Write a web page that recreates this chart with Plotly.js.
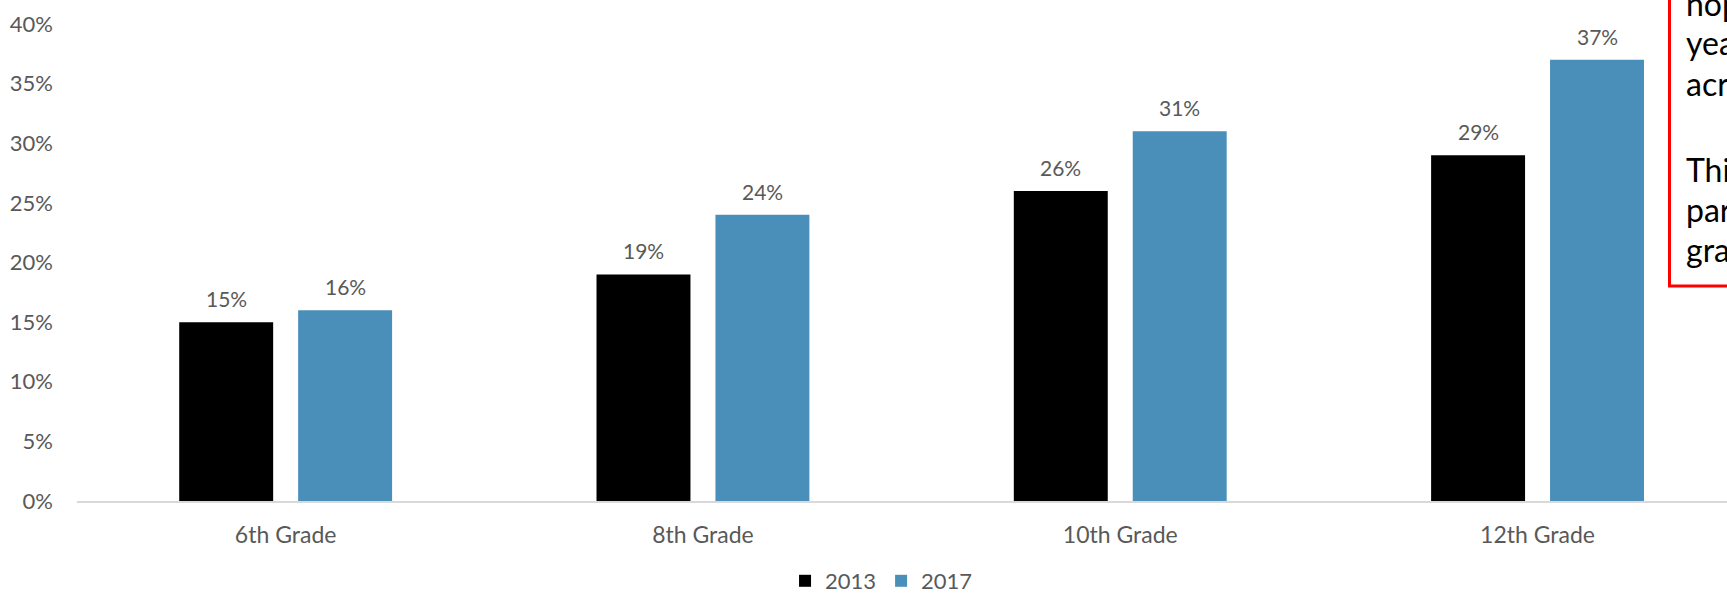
<!DOCTYPE html>
<html>
<head>
<meta charset="utf-8">
<script src="https://cdn.plot.ly/plotly-3.0.1.min.js"></script>
<style>
html,body{margin:0;padding:0;background:#fff;overflow:hidden;}
#chart{width:1727px;height:594px;}
</style>
</head>
<body>
<div id="chart"></div>
<script>
// ---- data ----
const categories = ['6th Grade', '8th Grade', '10th Grade', '12th Grade'];
const series2013 = [0.15, 0.19, 0.26, 0.29];
const series2017 = [0.16, 0.24, 0.31, 0.37];
const seriesNames = ['2013', '2017'];
const yTickVals = [0, 0.05, 0.10, 0.15, 0.20, 0.25, 0.30, 0.35, 0.40];
const yTickText = ['0%', '5%', '10%', '15%', '20%', '25%', '30%', '35%', '40%'];
const noteLines = ['nop', 'yea', 'acr', 'Thi', 'par', 'gra'];

// ---- style ----
const FONT = 'Lato, "Open Sans", sans-serif';
const GREY = '#595959';
const colors = ['#000000', '#4A8FBA'];

const fmt = v => Math.round(v * 100) + '%';

const traces = [series2013, series2017].map((vals, i) => ({
  type: 'bar',
  name: seriesNames[i],
  x: categories,
  y: vals,
  marker: {color: colors[i]},
  hoverinfo: 'none'
}));

const W = 1727, H = 594;
const margin = {l: 77, r: 0, t: 23.5, b: 93.3, autoexpand: false};
const plotW = W - margin.l - margin.r;
const plotH = H - margin.t - margin.b;
const xRange = [-0.5, -0.5 + plotW / 417.3];
const bargap = 0.43;
const slot = (1 - bargap) / 2; // in category units
const pxPerUnit = plotW / (xRange[1] - xRange[0]);

// data labels above bars
const annotations = [];
[series2013, series2017].forEach((vals, i) => {
  vals.forEach((v, j) => {
    annotations.push({
      x: categories[j], y: v, xref: 'x', yref: 'y',
      xshift: (i === 0 ? -1 : 1) * slot / 2 * pxPerUnit,
      yshift: 9,
      text: fmt(v), showarrow: false,
      yanchor: 'bottom', xanchor: 'center',
      font: {family: FONT, size: 21, color: GREY}
    });
  });
});

// cropped red note box on the right edge
const pxToPaperX = px => (px - margin.l) / plotW;
const pxToPaperY = py => (H - margin.b - py) / plotH;
const lineMids = [2.5, 42.5, 83, 169.5, 209.5, 249.5];
noteLines.forEach((t, k) => {
  annotations.push({
    xref: 'paper', yref: 'paper',
    x: pxToPaperX(1684), y: pxToPaperY(lineMids[k]),
    xanchor: 'left', yanchor: 'middle',
    text: t, showarrow: false,
    font: {family: FONT, size: 32, color: '#000000'}
  });
});

const shapes = [{
  type: 'rect', xref: 'paper', yref: 'paper',
  x0: pxToPaperX(1669.5), x1: pxToPaperX(1800),
  y0: pxToPaperY(285.5), y1: pxToPaperY(-20),
  line: {color: '#FF0000', width: 3},
  fillcolor: 'rgba(0,0,0,0)'
}];

const layout = {
  width: W, height: H,
  margin: margin,
  paper_bgcolor: '#ffffff', plot_bgcolor: '#ffffff',
  font: {family: FONT, size: 21, color: GREY},
  barmode: 'group',
  bargap: bargap,
  bargroupgap: 0.21,
  showlegend: true,
  legend: {
    orientation: 'h', x: 0.4876, xanchor: 'center', y: -0.1677, yanchor: 'middle',
    font: {family: FONT, size: 22, color: GREY},
    itemwidth: 30, traceorder: 'normal'
  },
  xaxis: {
    type: 'category', range: xRange, autorange: false,
    showline: true, linecolor: '#D9D9D9', linewidth: 1.5,
    ticks: '', showgrid: false, zeroline: false,
    tickfont: {family: FONT, size: 23, color: GREY},
    ticklabelstandoff: 13,
    fixedrange: true
  },
  yaxis: {
    range: [0, 0.40], autorange: false,
    tickvals: yTickVals, ticktext: yTickText,
    showgrid: false, zeroline: false, showline: false, ticks: '',
    tickfont: {family: FONT, size: 22, color: GREY},
    ticklabelstandoff: 23,
    fixedrange: true
  },
  annotations: annotations,
  shapes: shapes
};

Plotly.newPlot('chart', traces, layout, {displayModeBar: false, staticPlot: true});
</script>
</body>
</html>
